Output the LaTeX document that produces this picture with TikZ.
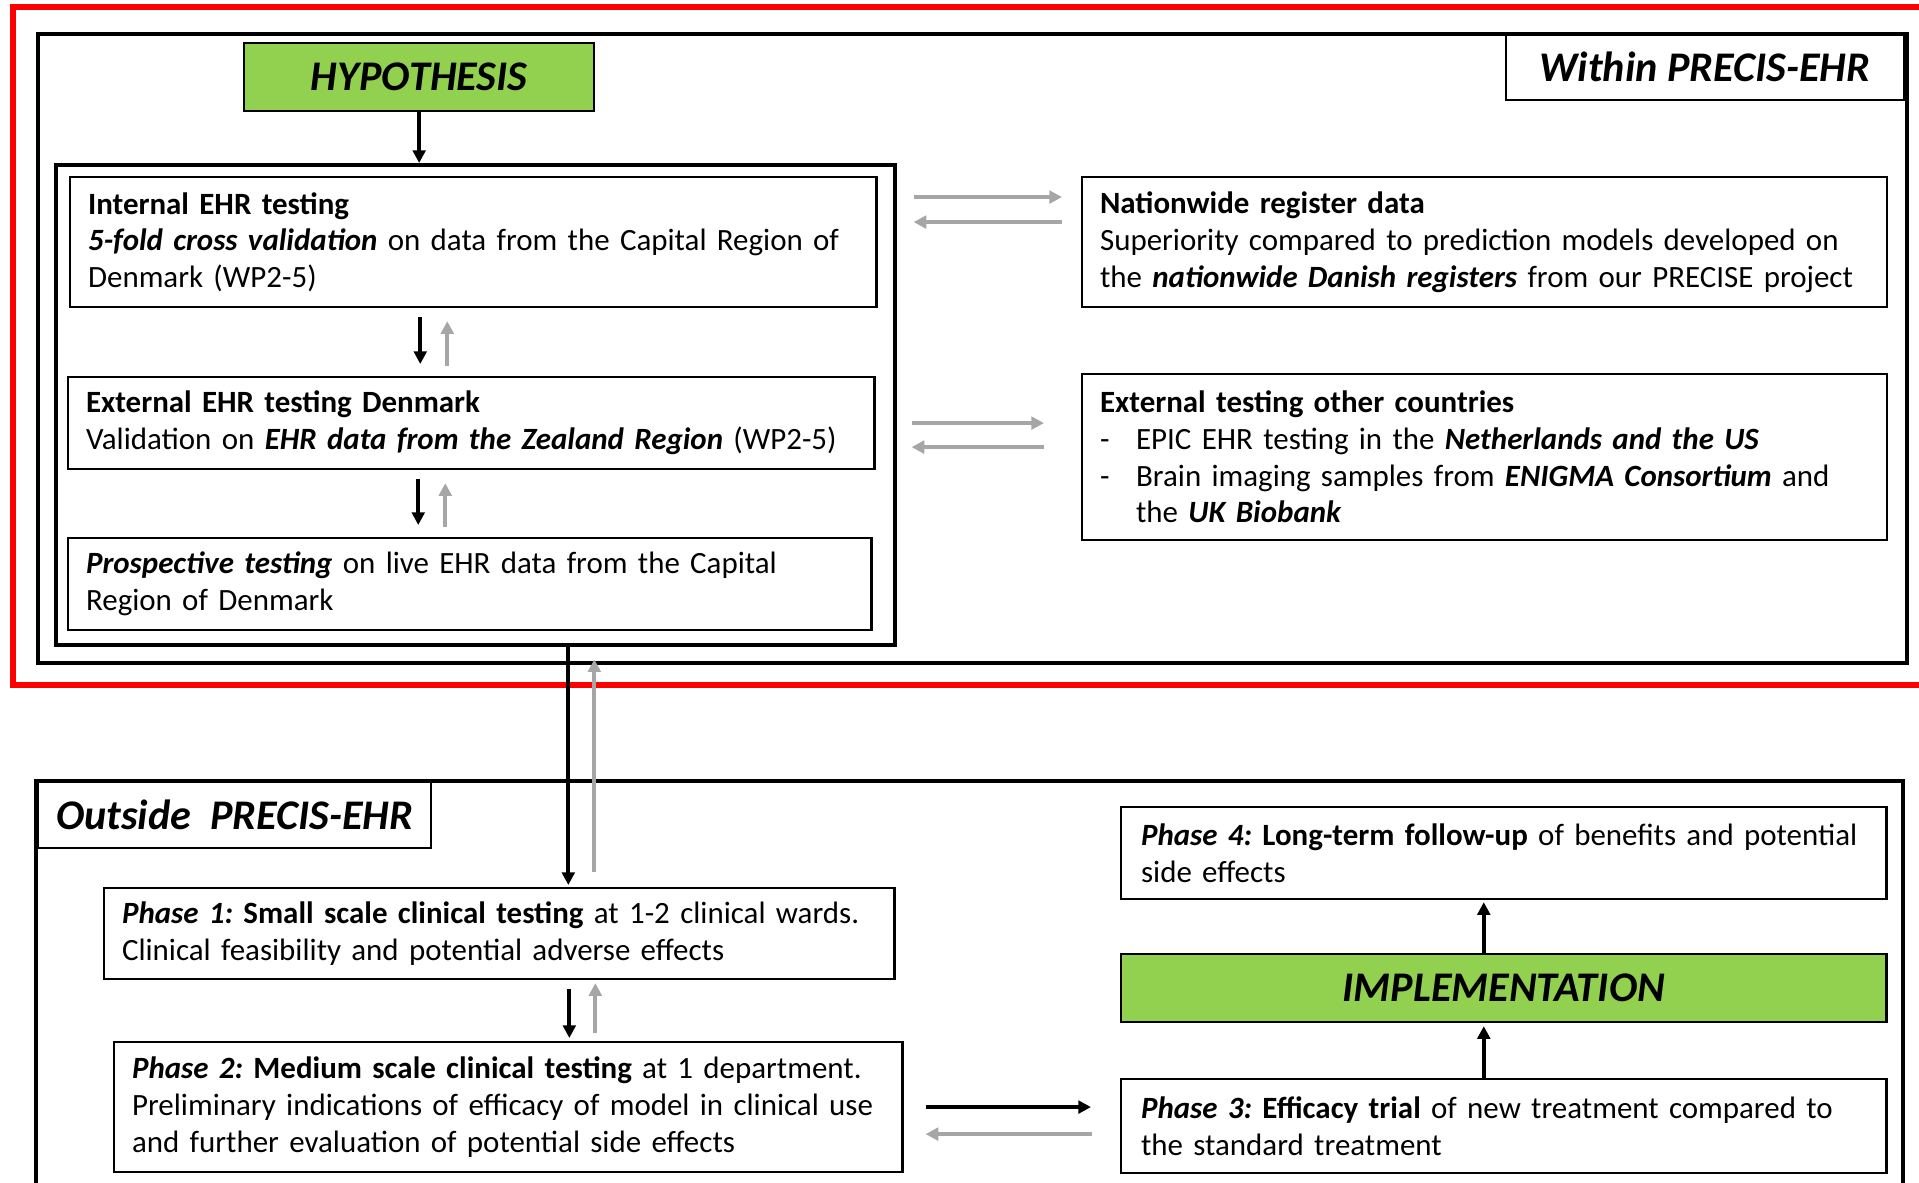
\documentclass[tikz,border=0pt]{standalone}
\usepackage{fontspec}
\setmainfont{Carlito}
\usetikzlibrary{arrows.meta}
\definecolor{hypgreen}{RGB}{146,208,80}
\definecolor{backgray}{RGB}{166,166,166}
\definecolor{framered}{RGB}{255,0,0}
\newcommand{\bi}[1]{{\bfseries\itshape #1}}
\newcommand{\bodyfont}{\fontsize{8.8}{10.45}\selectfont}
\newcommand{\headfont}{\fontsize{12}{14}\selectfont\bfseries\itshape}
\newcommand{\dashitem}{\makebox[0.36cm][l]{-}}
\frenchspacing

\begin{document}
\begin{tikzpicture}[x=0.01cm, y=-0.01cm,
	txtbox/.style={draw, line width=0.6pt, anchor=north west, align=left, inner xsep=0.18cm, inner ysep=0pt, font=\bodyfont},
	headbox/.style={draw, line width=0.6pt, anchor=north west, align=center, inner sep=0pt, font=\headfont},
	greenbox/.style={headbox, fill=hypgreen},
	frame/.style={draw, line width=1.15pt, anchor=north west, inner sep=0pt},
	fwd/.style={line width=1.2pt, -{Triangle[length=3.6pt,width=3.6pt]}},
	back/.style={fwd, draw=backgray}]
	\useasboundingbox (0,0) rectangle (1919,1182);
	% red frame
	\draw[framered, line width=1.9pt] (1919,7) -- (13,7) -- (13,685) -- (1919,685);
	% within PRECIS-EHR
	\node[frame, minimum width=18.68cm, minimum height=6.29cm] (within) at (36,32) {};
	\node[headbox, anchor=north east, minimum width=3.98cm, minimum height=0.67cm] (withinlbl) at (1905,32) {Within PRECIS-EHR};
	\node[greenbox, minimum width=3.50cm, minimum height=0.68cm] (hyp) at (243,42) {HYPOTHESIS};
	\node[frame, minimum width=8.38cm, minimum height=4.80cm] (grp) at (54,163) {};
	\node[txtbox, minimum width=8.06cm, minimum height=1.30cm, text width=7.70cm] (intern) at (69,176)
		{\textbf{Internal EHR testing}\\
		\bi{5-fold cross validation} on data from the Capital Region of\\
		Denmark (WP2-5)};
	\node[txtbox, minimum width=8.06cm, minimum height=0.92cm, text width=7.70cm] (extdk) at (67,376)
		{\textbf{External EHR testing Denmark}\\
		Validation on \bi{EHR data from the Zealand Region} (WP2-5)};
	\node[txtbox, minimum width=8.03cm, minimum height=0.92cm, text width=7.67cm] (prosp) at (67,537)
		{\bi{Prospective testing} on live EHR data from the Capital\\
		Region of Denmark};
	\node[txtbox, minimum width=8.04cm, minimum height=1.30cm, text width=7.68cm] (nation) at (1081,176)
		{\textbf{Nationwide register data}\\
		Superiority compared to prediction models developed on\\
		the \bi{nationwide Danish registers} from our PRECISE project};
	\node[txtbox, minimum width=8.04cm, minimum height=1.66cm, text width=7.68cm] (extother) at (1081,373)
		{\textbf{External testing other countries}\\
		\dashitem EPIC EHR testing in the \bi{Netherlands and the US}\\
		\dashitem Brain imaging samples from \bi{ENIGMA Consortium} and\\
		\hspace*{0.36cm}the \bi{UK Biobank}};
	% arrows inside
	\draw[fwd] (hyp) -- (hyp |- grp.north);
	\foreach \a/\b in {intern/extdk, extdk/prosp}{
		\draw[fwd, shorten <=0.09cm, shorten >=0.12cm] ([xshift=-0.53cm]\a.south) -- ([xshift=-0.53cm]\a.south |- \b.north);
		\draw[back, shorten <=0.1cm, shorten >=0.13cm] ([xshift=-0.26cm]\a.south |- \b.north) -- ([xshift=-0.26cm]\a.south);
	}
	\foreach \l/\r/\u/\d/\g in {intern/nation/0.45/0.20/0.19, extdk/extother/0.34/0.10/0.37}{
		\draw[back, shorten <=0.36cm, shorten >=\g cm] ([yshift=\u cm]\r.west -| \l.east) -- ([yshift=\u cm]\r.west);
		\draw[back, shorten <=\g cm, shorten >=0.36cm] ([yshift=\d cm]\r.west) -- ([yshift=\d cm]\r.west -| \l.east);
	}
	% outside PRECIS-EHR
	\draw[line width=1.15pt] (36,1190) -- (36,781) -- (1903,781) -- (1903,1190);
	\node[headbox, minimum width=3.93cm, minimum height=0.66cm] (outlbl) at (37,781) {Outside\ \ PRECIS-EHR};
	\node[txtbox, minimum width=7.90cm, minimum height=0.91cm, text width=7.54cm] (ph1) at (103,887)
		{\bi{Phase 1:} \textbf{Small scale clinical testing} at 1-2 clinical wards.\\
		Clinical feasibility and potential adverse effects};
	\node[txtbox, minimum width=7.88cm, minimum height=1.30cm, text width=7.52cm] (ph2) at (113,1041)
		{\bi{Phase 2:} \textbf{Medium scale clinical testing} at 1 department.\\
		Preliminary indications of efficacy of model in clinical use\\
		and further evaluation of potential side effects};
	\node[txtbox, minimum width=7.65cm, minimum height=0.92cm, text width=7.25cm, inner xsep=0.2cm] (ph4) at (1120,806)
		{\bi{Phase 4:} \textbf{Long-term follow-up} of benefits and potential\\
		side effects};
	\node[greenbox, minimum width=7.65cm, minimum height=0.68cm] (impl) at (1120,953) {IMPLEMENTATION};
	\node[txtbox, minimum width=7.65cm, minimum height=0.94cm, text width=7.25cm, inner xsep=0.2cm] (ph3) at (1120,1078)
		{\bi{Phase 3:} \textbf{Efficacy trial} of new treatment compared to\\
		the standard treatment};
	% arrows outside
	\draw[fwd, shorten >=0.02cm] ([xshift=0.69cm]ph1.north |- grp.south) -- ([xshift=0.69cm]ph1.north);
	\draw[back, shorten <=0.15cm, shorten >=0.12cm] ([xshift=0.95cm]ph1.north) -- ([xshift=0.95cm]ph1.north |- grp.south);
	\draw[fwd, shorten <=0.09cm, shorten >=0.03cm] ([xshift=0.70cm]ph1.south) -- ([xshift=0.70cm]ph1.south |- ph2.north);
	\draw[back, shorten <=0.08cm, shorten >=0.03cm] ([xshift=0.96cm]ph1.south |- ph2.north) -- ([xshift=0.96cm]ph1.south);
	\draw[fwd, shorten <=0.22cm, shorten >=0.29cm] ([yshift=0.19cm]ph3.west -| ph2.east) -- ([yshift=0.19cm]ph3.west);
	\draw[back, shorten <=0.28cm, shorten >=0.22cm] ([yshift=-0.08cm]ph3.west) -- ([yshift=-0.08cm]ph3.west -| ph2.east);
	\draw[fwd, shorten >=0.03cm] ([xshift=-0.2cm]ph3.north) -- ([xshift=-0.2cm]ph3.north |- impl.south);
	\draw[fwd, shorten >=0.02cm] ([xshift=-0.2cm]impl.north) -- ([xshift=-0.2cm]impl.north |- ph4.south);
\end{tikzpicture}
\end{document}
